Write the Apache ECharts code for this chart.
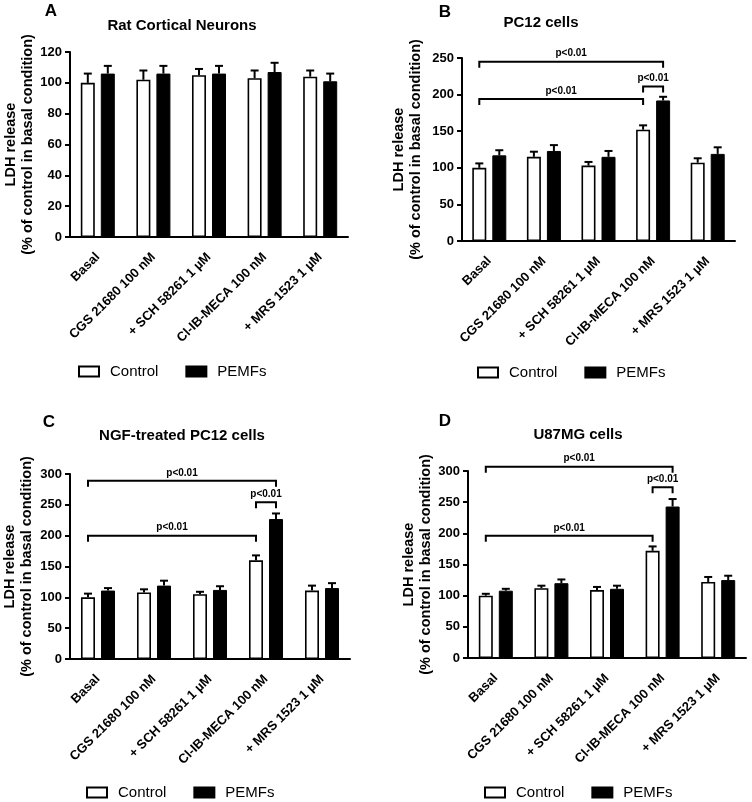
<!DOCTYPE html>
<html>
<head>
<meta charset="utf-8">
<script src="https://cdn.jsdelivr.net/npm/echarts@6/dist/echarts.min.js"></script>
<style>html,body{margin:0;padding:0;background:#fff}#c{width:752px;height:802px}</style>
</head>
<body>
<div id="c"></div>
<script>
// ---------- data ----------
const categories = ['Basal', 'CGS 21680 100 nM', '+ SCH 58261 1 µM', 'Cl-IB-MECA 100 nM', '+ MRS 1523 1 µM'];
const seriesNames = ['Control', 'PEMFs'];
const panelLetters = ['A', 'B', 'C', 'D'];
const panelTitles = ['Rat Cortical Neurons', 'PC12 cells', 'NGF-treated PC12 cells', 'U87MG cells'];
const yMax = [120, 250, 300, 300];
const yInterval = [20, 50, 50, 50];

const controlA = [100, 102, 105, 103, 104];
const controlErrA = [6, 6, 4, 5, 4];
const pemfA = [106, 106, 106, 107, 101];
const pemfErrA = [5, 5, 5, 6, 5];

const controlB = [100, 115, 103, 152, 107];
const controlErrB = [6, 7, 5, 6, 6];
const pemfB = [117, 123, 115, 192, 119];
const pemfErrB = [7, 8, 8, 5, 9];

const controlC = [100, 108, 105, 160, 111];
const controlErrC = [6, 5, 4, 8, 8];
const pemfC = [111, 119, 112, 227, 115];
const pemfErrC = [4, 8, 6, 9, 8];

const controlD = [100, 112, 109, 172, 122];
const controlErrD = [3, 4, 5, 7, 8];
const pemfD = [108, 120, 111, 243, 125];
const pemfErrD = [3, 6, 5, 12, 7];

// significance brackets: [fromCategory, fromSeries(-1 control / +1 PEMFs), toCategory, toSeries, y level]
const bracketsA = [];
const bracketsB = [[0, -1, 3, 1, 245], [0, -1, 3, -1, 194], [3, -1, 3, 1, 211]];
const bracketsC = [[0, -1, 3, 1, 289], [0, -1, 3, -1, 200], [3, -1, 3, 1, 254]];
const bracketsD = [[0, -1, 3, 1, 307], [0, -1, 3, -1, 196], [3, -1, 3, 1, 274]];
const pLabel = 'p<0.01';

// ---------- layout / style ----------
const FONT = '"Liberation Sans", Arial, Helvetica, sans-serif';
const grids = [
  {left: 70, top: 52, width: 278, height: 185},
  {left: 462, top: 58, width: 273, height: 183},
  {left: 70, top: 474, width: 280, height: 185},
  {left: 468, top: 471, width: 278, height: 187}
];
const nameGaps = [33, 38, 35, 34];
const titlePos = [[182, 26], [541, 23], [182, 436], [578, 435]];
const letterPos = [[51, 11], [445, 12], [49, 422], [445, 421]];
const legendPos = [[78, 364], [477, 365], [86, 785], [484, 785]];
const BAR_W = 14, OFF = 10;

const panels = [
  [controlA, controlErrA, pemfA, pemfErrA, bracketsA],
  [controlB, controlErrB, pemfB, pemfErrB, bracketsB],
  [controlC, controlErrC, pemfC, pemfErrC, bracketsC],
  [controlD, controlErrD, pemfD, pemfErrD, bracketsD]
];

function errRender(side) {
  return function (params, api) {
    const x = api.value(0), v = api.value(1), e = api.value(2);
    const p0 = api.coord([x, v]);
    const p1 = api.coord([x, v + e]);
    const cx = p0[0] + side * OFF;
    return {
      type: 'group',
      children: [
        {type: 'line', shape: {x1: cx, y1: p0[1], x2: cx, y2: p1[1]}, style: {stroke: '#000', lineWidth: 2}},
        {type: 'line', shape: {x1: cx - 4, y1: p1[1], x2: cx + 4, y2: p1[1]}, style: {stroke: '#000', lineWidth: 2}}
      ]
    };
  };
}

function bracketRender(params, api) {
  const c1 = api.value(0), s1 = api.value(1), c2 = api.value(2), s2 = api.value(3), yv = api.value(4);
  const a = api.coord([c1, yv]), b = api.coord([c2, yv]);
  const x1 = a[0] + s1 * OFF, x2 = b[0] + s2 * OFF, y = a[1];
  return {
    type: 'group',
    children: [
      {type: 'polyline', shape: {points: [[x1, y + 6], [x1, y], [x2, y], [x2, y + 6]]}, style: {stroke: '#000', lineWidth: 2, fill: null}},
      {type: 'text', style: {text: pLabel, x: (x1 + x2) / 2, y: y - 8, align: 'center', verticalAlign: 'middle', font: 'bold 10px ' + FONT, fill: '#000'}}
    ]
  };
}

const option = {
  animation: false,
  backgroundColor: '#fff',
  textStyle: {fontFamily: FONT},
  grid: grids,
  legend: legendPos.map(p => ({
    left: p[0], top: p[1], padding: 0, data: seriesNames, icon: 'rect', itemWidth: 20, itemHeight: 10, itemGap: 27,
    selectedMode: false,
    textStyle: {fontSize: 15, color: '#000', fontFamily: FONT, padding: [0, 0, 0, 6]}
  })),
  xAxis: grids.map((g, i) => ({
    type: 'category', gridIndex: i, data: categories,
    axisLine: {lineStyle: {color: '#000', width: 2}},
    axisTick: {alignWithLabel: true, length: 5, lineStyle: {color: '#000', width: 2}},
    axisLabel: {rotate: 45, margin: 18, color: '#000', fontWeight: 'bold', fontSize: 13, fontFamily: FONT, interval: 0}
  })),
  yAxis: grids.map((g, i) => ({
    type: 'value', gridIndex: i, min: 0, max: yMax[i], interval: yInterval[i],
    name: 'LDH release\n(% of control in basal condition)',
    nameLocation: 'middle', nameRotate: 90, nameGap: nameGaps[i],
    nameTextStyle: {fontWeight: 'bold', fontSize: 14.5, lineHeight: 17, color: '#000', fontFamily: FONT},
    splitLine: {show: false},
    axisLine: {show: true, lineStyle: {color: '#000', width: 2}},
    axisTick: {show: true, length: 5, lineStyle: {color: '#000', width: 2}},
    axisLabel: {color: '#000', fontWeight: 'bold', fontSize: 13, margin: 8, fontFamily: FONT}
  })),
  graphic: [
    ...panelTitles.map((t, i) => ({type: 'text', x: titlePos[i][0], y: titlePos[i][1],
      style: {text: t, align: 'center', verticalAlign: 'middle', font: 'bold 15px ' + FONT, fill: '#000'}})),
    ...panelLetters.map((t, i) => ({type: 'text', x: letterPos[i][0], y: letterPos[i][1],
      style: {text: t, align: 'center', verticalAlign: 'middle', font: 'bold 17px ' + FONT, fill: '#000'}}))
  ],
  series: []
};

panels.forEach((p, i) => {
  const [ctrl, ctrlErr, pemf, pemfErr, br] = p;
  option.series.push({
    type: 'bar', name: 'Control', xAxisIndex: i, yAxisIndex: i, data: ctrl,
    barWidth: BAR_W, barGap: '43%',
    itemStyle: {color: '#fff', borderColor: '#000', borderWidth: 1.6}
  });
  option.series.push({
    type: 'bar', name: 'PEMFs', xAxisIndex: i, yAxisIndex: i, data: pemf,
    barWidth: BAR_W, barGap: '43%',
    itemStyle: {color: '#000', borderColor: '#000', borderWidth: 1}
  });
  option.series.push({
    type: 'custom', name: 'errC' + i, xAxisIndex: i, yAxisIndex: i, z: 3,
    renderItem: errRender(-1), encode: {x: 0, y: 1},
    data: ctrl.map((v, k) => [k, v, ctrlErr[k]])
  });
  option.series.push({
    type: 'custom', name: 'errP' + i, xAxisIndex: i, yAxisIndex: i, z: 3,
    renderItem: errRender(1), encode: {x: 0, y: 1},
    data: pemf.map((v, k) => [k, v, pemfErr[k]])
  });
  if (br.length) {
    option.series.push({
      type: 'custom', name: 'br' + i, xAxisIndex: i, yAxisIndex: i, z: 4, clip: false,
      renderItem: bracketRender, encode: {x: 0, y: 4},
      data: br
    });
  }
});

const chart = echarts.init(document.getElementById('c'), null, {renderer: 'canvas'});
chart.setOption(option);
</script>
</body>
</html>
